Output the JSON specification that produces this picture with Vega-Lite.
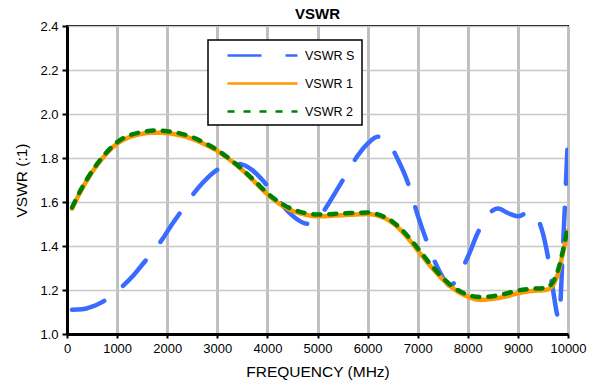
{
  "$schema": "https://vega.github.io/schema/vega-lite/v6.json",
  "width": 501,
  "height": 308,
  "autosize": "none",
  "padding": {"left": 67, "top": 26, "right": 24, "bottom": 52},
  "background": "white",
  "title": {"text": "VSWR", "fontSize": 15, "fontWeight": "bold", "font": "Liberation Sans", "color": "black", "offset": -2, "anchor": "middle"},
  "config": {
    "font": "Liberation Sans",
    "view": {"stroke": "black", "strokeWidth": 2}
  },
  "data": {
    "values": [
      {"f": 100, "v": 1.11, "s": "VSWR S"},
      {"f": 300, "v": 1.112, "s": "VSWR S"},
      {"f": 500, "v": 1.124, "s": "VSWR S"},
      {"f": 700, "v": 1.145, "s": "VSWR S"},
      {"f": 900, "v": 1.175, "s": "VSWR S"},
      {"f": 1100, "v": 1.215, "s": "VSWR S"},
      {"f": 1300, "v": 1.26, "s": "VSWR S"},
      {"f": 1500, "v": 1.315, "s": "VSWR S"},
      {"f": 1700, "v": 1.37, "s": "VSWR S"},
      {"f": 1900, "v": 1.43, "s": "VSWR S"},
      {"f": 2100, "v": 1.5, "s": "VSWR S"},
      {"f": 2300, "v": 1.565, "s": "VSWR S"},
      {"f": 2500, "v": 1.63, "s": "VSWR S"},
      {"f": 2700, "v": 1.685, "s": "VSWR S"},
      {"f": 2900, "v": 1.73, "s": "VSWR S"},
      {"f": 3100, "v": 1.76, "s": "VSWR S"},
      {"f": 3300, "v": 1.775, "s": "VSWR S"},
      {"f": 3500, "v": 1.77, "s": "VSWR S"},
      {"f": 3700, "v": 1.745, "s": "VSWR S"},
      {"f": 3900, "v": 1.7, "s": "VSWR S"},
      {"f": 4100, "v": 1.645, "s": "VSWR S"},
      {"f": 4300, "v": 1.585, "s": "VSWR S"},
      {"f": 4500, "v": 1.538, "s": "VSWR S"},
      {"f": 4700, "v": 1.507, "s": "VSWR S"},
      {"f": 4850, "v": 1.5, "s": "VSWR S"},
      {"f": 5000, "v": 1.52, "s": "VSWR S"},
      {"f": 5200, "v": 1.585, "s": "VSWR S"},
      {"f": 5400, "v": 1.66, "s": "VSWR S"},
      {"f": 5600, "v": 1.735, "s": "VSWR S"},
      {"f": 5800, "v": 1.81, "s": "VSWR S"},
      {"f": 6000, "v": 1.865, "s": "VSWR S"},
      {"f": 6200, "v": 1.897, "s": "VSWR S"},
      {"f": 6400, "v": 1.875, "s": "VSWR S"},
      {"f": 6600, "v": 1.795, "s": "VSWR S"},
      {"f": 6800, "v": 1.69, "s": "VSWR S"},
      {"f": 7000, "v": 1.54, "s": "VSWR S"},
      {"f": 7200, "v": 1.41, "s": "VSWR S"},
      {"f": 7400, "v": 1.3, "s": "VSWR S"},
      {"f": 7550, "v": 1.24, "s": "VSWR S"},
      {"f": 7650, "v": 1.218, "s": "VSWR S"},
      {"f": 7800, "v": 1.26, "s": "VSWR S"},
      {"f": 8000, "v": 1.35, "s": "VSWR S"},
      {"f": 8200, "v": 1.46, "s": "VSWR S"},
      {"f": 8400, "v": 1.54, "s": "VSWR S"},
      {"f": 8600, "v": 1.57, "s": "VSWR S"},
      {"f": 8800, "v": 1.55, "s": "VSWR S"},
      {"f": 9000, "v": 1.535, "s": "VSWR S"},
      {"f": 9150, "v": 1.548, "s": "VSWR S"},
      {"f": 9250, "v": 1.556, "s": "VSWR S"},
      {"f": 9350, "v": 1.54, "s": "VSWR S"},
      {"f": 9470, "v": 1.48, "s": "VSWR S"},
      {"f": 9600, "v": 1.35, "s": "VSWR S"},
      {"f": 9700, "v": 1.2, "s": "VSWR S"},
      {"f": 9820, "v": 1.07, "s": "VSWR S"},
      {"f": 9900, "v": 1.4, "s": "VSWR S"},
      {"f": 10000, "v": 1.9, "s": "VSWR S"},

      {"f": 100, "v": 1.57, "s": "VSWR 1"},
      {"f": 300, "v": 1.66, "s": "VSWR 1"},
      {"f": 500, "v": 1.735, "s": "VSWR 1"},
      {"f": 750, "v": 1.81, "s": "VSWR 1"},
      {"f": 1000, "v": 1.865, "s": "VSWR 1"},
      {"f": 1250, "v": 1.895, "s": "VSWR 1"},
      {"f": 1500, "v": 1.91, "s": "VSWR 1"},
      {"f": 1750, "v": 1.915, "s": "VSWR 1"},
      {"f": 2000, "v": 1.913, "s": "VSWR 1"},
      {"f": 2250, "v": 1.903, "s": "VSWR 1"},
      {"f": 2500, "v": 1.887, "s": "VSWR 1"},
      {"f": 2750, "v": 1.862, "s": "VSWR 1"},
      {"f": 3000, "v": 1.832, "s": "VSWR 1"},
      {"f": 3250, "v": 1.792, "s": "VSWR 1"},
      {"f": 3500, "v": 1.745, "s": "VSWR 1"},
      {"f": 3750, "v": 1.69, "s": "VSWR 1"},
      {"f": 4000, "v": 1.635, "s": "VSWR 1"},
      {"f": 4250, "v": 1.59, "s": "VSWR 1"},
      {"f": 4500, "v": 1.56, "s": "VSWR 1"},
      {"f": 4750, "v": 1.543, "s": "VSWR 1"},
      {"f": 5000, "v": 1.535, "s": "VSWR 1"},
      {"f": 5500, "v": 1.54, "s": "VSWR 1"},
      {"f": 6000, "v": 1.545, "s": "VSWR 1"},
      {"f": 6250, "v": 1.535, "s": "VSWR 1"},
      {"f": 6500, "v": 1.505, "s": "VSWR 1"},
      {"f": 6750, "v": 1.45, "s": "VSWR 1"},
      {"f": 7000, "v": 1.38, "s": "VSWR 1"},
      {"f": 7250, "v": 1.31, "s": "VSWR 1"},
      {"f": 7500, "v": 1.248, "s": "VSWR 1"},
      {"f": 7750, "v": 1.2, "s": "VSWR 1"},
      {"f": 8000, "v": 1.17, "s": "VSWR 1"},
      {"f": 8250, "v": 1.155, "s": "VSWR 1"},
      {"f": 8500, "v": 1.16, "s": "VSWR 1"},
      {"f": 8750, "v": 1.17, "s": "VSWR 1"},
      {"f": 9000, "v": 1.185, "s": "VSWR 1"},
      {"f": 9250, "v": 1.195, "s": "VSWR 1"},
      {"f": 9550, "v": 1.2, "s": "VSWR 1"},
      {"f": 9650, "v": 1.21, "s": "VSWR 1"},
      {"f": 9800, "v": 1.275, "s": "VSWR 1"},
      {"f": 9900, "v": 1.37, "s": "VSWR 1"},
      {"f": 10000, "v": 1.47, "s": "VSWR 1"},

      {"f": 100, "v": 1.575, "s": "VSWR 2"},
      {"f": 300, "v": 1.665, "s": "VSWR 2"},
      {"f": 500, "v": 1.74, "s": "VSWR 2"},
      {"f": 750, "v": 1.815, "s": "VSWR 2"},
      {"f": 1000, "v": 1.872, "s": "VSWR 2"},
      {"f": 1250, "v": 1.903, "s": "VSWR 2"},
      {"f": 1500, "v": 1.918, "s": "VSWR 2"},
      {"f": 1750, "v": 1.925, "s": "VSWR 2"},
      {"f": 2000, "v": 1.922, "s": "VSWR 2"},
      {"f": 2250, "v": 1.912, "s": "VSWR 2"},
      {"f": 2500, "v": 1.895, "s": "VSWR 2"},
      {"f": 2750, "v": 1.868, "s": "VSWR 2"},
      {"f": 3000, "v": 1.836, "s": "VSWR 2"},
      {"f": 3250, "v": 1.795, "s": "VSWR 2"},
      {"f": 3500, "v": 1.748, "s": "VSWR 2"},
      {"f": 3750, "v": 1.695, "s": "VSWR 2"},
      {"f": 4000, "v": 1.64, "s": "VSWR 2"},
      {"f": 4250, "v": 1.597, "s": "VSWR 2"},
      {"f": 4500, "v": 1.567, "s": "VSWR 2"},
      {"f": 4750, "v": 1.55, "s": "VSWR 2"},
      {"f": 5000, "v": 1.543, "s": "VSWR 2"},
      {"f": 5500, "v": 1.548, "s": "VSWR 2"},
      {"f": 6000, "v": 1.552, "s": "VSWR 2"},
      {"f": 6250, "v": 1.54, "s": "VSWR 2"},
      {"f": 6500, "v": 1.51, "s": "VSWR 2"},
      {"f": 6750, "v": 1.458, "s": "VSWR 2"},
      {"f": 7000, "v": 1.39, "s": "VSWR 2"},
      {"f": 7250, "v": 1.318, "s": "VSWR 2"},
      {"f": 7500, "v": 1.255, "s": "VSWR 2"},
      {"f": 7750, "v": 1.207, "s": "VSWR 2"},
      {"f": 8000, "v": 1.178, "s": "VSWR 2"},
      {"f": 8250, "v": 1.168, "s": "VSWR 2"},
      {"f": 8500, "v": 1.172, "s": "VSWR 2"},
      {"f": 8750, "v": 1.183, "s": "VSWR 2"},
      {"f": 9000, "v": 1.198, "s": "VSWR 2"},
      {"f": 9250, "v": 1.205, "s": "VSWR 2"},
      {"f": 9550, "v": 1.21, "s": "VSWR 2"},
      {"f": 9650, "v": 1.222, "s": "VSWR 2"},
      {"f": 9800, "v": 1.29, "s": "VSWR 2"},
      {"f": 9900, "v": 1.38, "s": "VSWR 2"},
      {"f": 10000, "v": 1.49, "s": "VSWR 2"}
    ]
  },
  "mark": {"type": "line", "interpolate": "monotone", "strokeWidth": 4.5, "strokeCap": "round", "clip": true},
  "encoding": {
    "x": {
      "field": "f", "type": "quantitative",
      "scale": {"domain": [0, 10000], "nice": false},
      "axis": {
        "title": "FREQUENCY (MHz)", "values": [0,1000,2000,3000,4000,5000,6000,7000,8000,9000,10000],
        "format": "d", "labelFlush": false, "labelFontSize": 13, "labelColor": "black", "labelPadding": 4,
        "tickSize": 4, "tickWidth": 2, "tickColor": "black",
        "domainColor": "black", "domainWidth": 3,
        "gridColor": "#C0C0C0", "gridWidth": 3,
        "titleFontSize": 15.5, "titleFontWeight": "normal", "titleColor": "black", "titlePadding": 9
      }
    },
    "y": {
      "field": "v", "type": "quantitative",
      "scale": {"domain": [1.0, 2.4], "nice": false, "zero": false},
      "axis": {
        "title": "VSWR (:1)", "values": [1.0,1.2,1.4,1.6,1.8,2.0,2.2,2.4],
        "format": ".1f", "labelFlush": false, "labelFontSize": 13, "labelColor": "black", "labelPadding": 4,
        "tickSize": 5, "tickWidth": 2, "tickColor": "black",
        "domainColor": "black", "domainWidth": 3,
        "gridColor": "#C8C8C8", "gridWidth": 1.5,
        "titleFontSize": 15.5, "titleFontWeight": "normal", "titleColor": "black", "titlePadding": 10
      }
    },
    "color": {
      "field": "s", "type": "nominal",
      "scale": {"domain": ["VSWR S", "VSWR 1", "VSWR 2"], "range": ["#3A6BFF", "#FF9900", "#008000"]},
      "legend": {
        "title": null, "orient": "none", "legendX": 141, "legendY": 14,
        "symbolType": "M-5,0H5", "symbolSize": 196, "symbolStrokeWidth": 2.5, "symbolOffset": 39,
        "labelFontSize": 12.5, "labelColor": "black", "labelOffset": 34,
        "labelExpr": "datum.label + '  '",
        "fillColor": "white", "strokeColor": "black", "padding": 7, "rowPadding": 13,
        "encode": {
          "legend": {"update": {"strokeWidth": {"value": 1.5}}},
          "symbols": {"update": {"strokeDash": {"signal": "datum.value == 'VSWR S' ? [21, 8] : datum.value == 'VSWR 2' ? [6, 4] : [1, 0]"}}}
        }
      }
    },
    "strokeDash": {
      "field": "s", "type": "nominal",
      "scale": {"domain": ["VSWR S", "VSWR 1", "VSWR 2"], "range": [[34, 24], [1, 0], [7, 9]]},
      "legend": null
    }
  }
}
